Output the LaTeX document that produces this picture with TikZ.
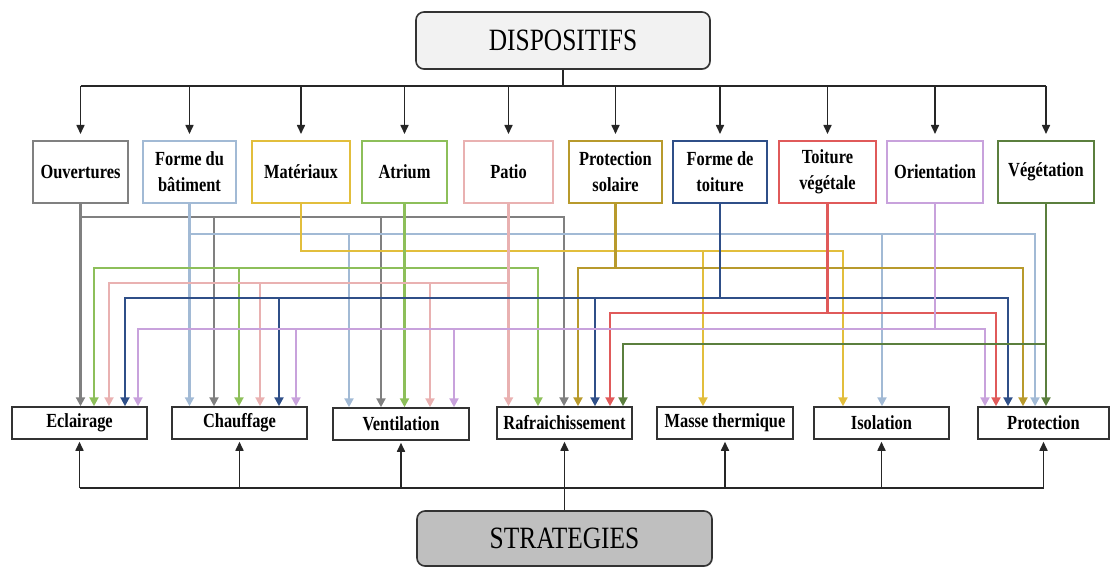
\documentclass[tikz,border=0pt]{standalone}
\usepackage{fontspec}
\setmainfont{Liberation Serif}[FakeStretch=0.82]
\usetikzlibrary{arrows.meta,shadows}

\definecolor{cOuv}{HTML}{808080}
\definecolor{cForme}{HTML}{A2BAD5}
\definecolor{cMat}{HTML}{E2BE3C}
\definecolor{cAtr}{HTML}{8DBF5A}
\definecolor{cPat}{HTML}{E9B1B1}
\definecolor{cPS}{HTML}{B89A2C}
\definecolor{cFT}{HTML}{2F4F88}
\definecolor{cTV}{HTML}{E05A5A}
\definecolor{cOri}{HTML}{C8A2DC}
\definecolor{cVeg}{HTML}{5B7F3E}

\tikzset{
  topbox/.style={draw, line width=2pt, fill=white, inner sep=0pt, minimum height=62pt, align=center, font=\bfseries\fontsize{20}{26}\selectfont},
  botbox/.style={draw=black!80, line width=1.5pt, fill=white, inner sep=0pt, minimum height=32pt, font=\bfseries\fontsize{20}{24}\selectfont},
  headbox/.style={draw=black!80, line width=1.6pt, rounded corners=8pt, inner sep=0pt, font=\fontsize{31}{36}\selectfont, drop shadow={shadow xshift=0.8pt, shadow yshift=-0.8pt, opacity=0.4}},
  wire/.style={line width=2.2pt, line cap=rect},
  link/.style={wire, -{Triangle[length=9pt,width=9pt]}},
  feed/.style={draw=black!85, line width=1.6pt},
  feedarr/.style={feed, -{Triangle[length=9pt,width=8pt]}},
}

\begin{document}
\begin{tikzpicture}[x=1pt, y=-1pt]
            \useasboundingbox (0,0) rectangle (1112,567);

            % Dispositifs et strategies
            \node[headbox, fill=black!5, minimum width=294pt, minimum height=57pt] (disp) at (563,40.5) {DISPOSITIFS};
            \node[headbox, fill=black!25, minimum width=295pt, minimum height=55pt] (strat) at (564.5,538.5) {STRATEGIES};

            % Dispositifs
            \node[topbox, draw=cOuv, minimum width=95pt] (ouv) at (80.5,172) {Ouvertures};
            \node[topbox, draw=cForme, minimum width=93pt] (forme) at (189.5,172) {Forme du\\bâtiment};
            \node[topbox, draw=cMat, minimum width=98pt] (mat) at (301,172) {Matériaux};
            \node[topbox, draw=cAtr, minimum width=85pt] (atrium) at (404.5,172) {Atrium};
            \node[topbox, draw=cPat, minimum width=89pt] (patio) at (508.5,172) {Patio};
            \node[topbox, draw=cPS, minimum width=93pt] (protsol) at (615.5,172) {Protection\\solaire};
            \node[topbox, draw=cFT, minimum width=94pt] (toitf) at (720,172) {Forme de\\toiture};
            \node[topbox, draw=cTV, minimum width=97pt] (toitv) at (827.5,172) {Toiture\\végétale};
            \node[topbox, draw=cOri, minimum width=96pt] (orient) at (935,172) {Orientation};
            \node[topbox, draw=cVeg, minimum width=96pt] (veget) at (1046,172) {\raisebox{-1pt}{Végétation}};

            % Strategies
            \node[botbox, minimum width=135pt] (ecl) at (79.5,423) {Eclairage};
            \node[botbox, minimum width=135pt] (chauf) at (239.5,423) {Chauffage};
            \node[botbox, minimum width=136pt] (vent) at (401,424) {Ventilation};
            \node[botbox, minimum width=135pt] (raf) at (564.5,423) {Rafraichissement};
            \node[botbox, minimum width=136pt] (masse) at (725,423) {Masse thermique};
            \node[botbox, minimum width=135pt] (iso) at (881.5,423) {Isolation};
            \node[botbox, minimum width=131pt] (prot) at (1043.5,423) {Protection};

            % Distribution vers les dispositifs
            \coordinate (topbus) at (0,86);
            \draw[feed] (disp.south) -- (disp.south |- topbus);
            \draw[feed] (ouv.north |- topbus) -- (veget.north |- topbus);
            \draw[feedarr, shorten >=6pt] (ouv.north |- topbus) -- (ouv.north);
            \draw[feedarr, shorten >=6pt] (forme.north |- topbus) -- (forme.north);
            \draw[feedarr, shorten >=6pt] (mat.north |- topbus) -- (mat.north);
            \draw[feedarr, shorten >=6pt] (atrium.north |- topbus) -- (atrium.north);
            \draw[feedarr, shorten >=6pt] (patio.north |- topbus) -- (patio.north);
            \draw[feedarr, shorten >=6pt] (protsol.north |- topbus) -- (protsol.north);
            \draw[feedarr, shorten >=6pt] (toitf.north |- topbus) -- (toitf.north);
            \draw[feedarr, shorten >=6pt] (toitv.north |- topbus) -- (toitv.north);
            \draw[feedarr, shorten >=6pt] (orient.north |- topbus) -- (orient.north);
            \draw[feedarr, shorten >=6pt] (veget.north |- topbus) -- (veget.north);

            % Distribution vers les strategies
            \coordinate (botbus) at (0,488);
            \draw[feed] (ecl.south |- botbus) -- (prot.south |- botbus);
            \draw[feedarr, shorten >=2pt] (ecl.south |- botbus) -- (ecl.south);
            \draw[feedarr, shorten >=2pt] (chauf.south |- botbus) -- (chauf.south);
            \draw[feedarr, shorten >=2pt] (vent.south |- botbus) -- (vent.south);
            \draw[feedarr, shorten >=2pt] (masse.south |- botbus) -- (masse.south);
            \draw[feedarr, shorten >=2pt] (iso.south |- botbus) -- (iso.south);
            \draw[feedarr, shorten >=2pt] (prot.south |- botbus) -- (prot.south);
            \draw[feedarr, shorten >=2pt] (strat.north) -- (raf.south);

            % Ouvertures
            \draw[cOuv, link] (ouv.south) -- (ouv.south |- ecl.north);
            \draw[cOuv, wire] (80.5,217) -- (564,217);
            \draw[cOuv, link] (214,217) -- (214,217 |- chauf.north);
            \draw[cOuv, link] (381,217) -- (381,217 |- vent.north);
            \draw[cOuv, link] (564,217) -- (564,217 |- raf.north);

            % Forme du batiment
            \draw[cForme, link] (forme.south) -- (forme.south |- chauf.north);
            \draw[cForme, wire] (189.5,234) -- (1035,234);
            \draw[cForme, link] (349,234) -- (349,234 |- vent.north);
            \draw[cForme, link] (882,234) -- (882,234 |- iso.north);
            \draw[cForme, link] (1035,234) -- (1035,234 |- prot.north);

            % Materiaux
            \draw[cMat, wire] (mat.south) |- (843,251);
            \draw[cMat, link] (703,251) -- (703,251 |- masse.north);
            \draw[cMat, link] (843,251) -- (843,251 |- iso.north);

            % Atrium
            \draw[cAtr, link] (atrium.south) -- (atrium.south |- vent.north);
            \draw[cAtr, wire] (94,268) -- (538,268);
            \draw[cAtr, link] (94,268) -- (94,268 |- ecl.north);
            \draw[cAtr, link] (239,268) -- (239,268 |- chauf.north);
            \draw[cAtr, link] (538,268) -- (538,268 |- raf.north);

            % Patio
            \draw[cPat, link] (patio.south) -- (patio.south |- raf.north);
            \draw[cPat, wire] (109,283) -- (508.5,283);
            \draw[cPat, link] (109,283) -- (109,283 |- ecl.north);
            \draw[cPat, link] (260,283) -- (260,283 |- chauf.north);
            \draw[cPat, link] (430,283) -- (430,283 |- vent.north);

            % Protection solaire
            \draw[cPS, wire] (protsol.south) -- (protsol.south |- 0,268);
            \draw[cPS, wire] (578,268) -- (1023,268);
            \draw[cPS, link] (578,268) -- (578,268 |- raf.north);
            \draw[cPS, link] (1023,268) -- (1023,268 |- prot.north);

            % Forme de toiture
            \draw[cFT, wire] (toitf.south) -- (toitf.south |- 0,298);
            \draw[cFT, wire] (125,298) -- (1008,298);
            \draw[cFT, link] (125,298) -- (125,298 |- ecl.north);
            \draw[cFT, link] (279,298) -- (279,298 |- chauf.north);
            \draw[cFT, link] (595,298) -- (595,298 |- raf.north);
            \draw[cFT, link] (1008,298) -- (1008,298 |- prot.north);

            % Toiture vegetale
            \draw[cTV, wire] (toitv.south) -- (toitv.south |- 0,313);
            \draw[cTV, wire] (610,313) -- (996,313);
            \draw[cTV, link] (610,313) -- (610,313 |- raf.north);
            \draw[cTV, link] (996,313) -- (996,313 |- prot.north);

            % Orientation
            \draw[cOri, wire] (orient.south) -- (orient.south |- 0,329);
            \draw[cOri, wire] (138,329) -- (985,329);
            \draw[cOri, link] (138,329) -- (138,329 |- ecl.north);
            \draw[cOri, link] (296,329) -- (296,329 |- chauf.north);
            \draw[cOri, link] (454,329) -- (454,329 |- vent.north);
            \draw[cOri, link] (985,329) -- (985,329 |- prot.north);

            % Vegetation
            \draw[cVeg, link] (veget.south) -- (veget.south |- prot.north);
            \draw[cVeg, wire] (623,344) -- (1046,344);
            \draw[cVeg, link] (623,344) -- (623,344 |- raf.north);

\end{tikzpicture}
\end{document}
